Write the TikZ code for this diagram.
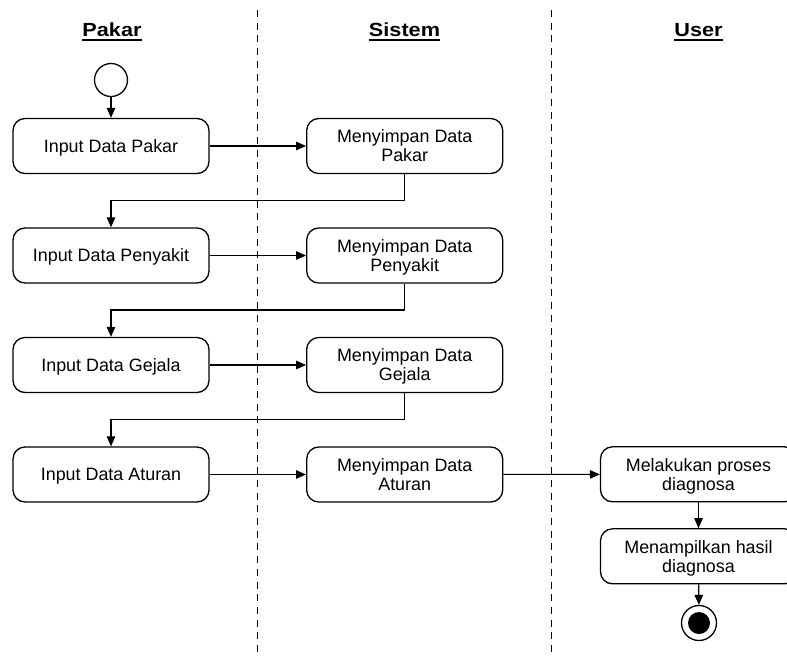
\documentclass[tikz,border=0pt]{standalone}
\usepackage{fontspec}
\setmainfont{Liberation Sans}
\usetikzlibrary{arrows.meta}
\newcommand{\lanetitle}[1]{\scalebox{1.14}[1]{#1}}
\begin{document}
\begin{tikzpicture}[x=1pt,y=-1pt,
  act/.style={draw, line width=1.3pt, rounded corners=12pt, minimum width=196pt,
    minimum height=55pt, align=center, inner sep=0pt, text depth=0pt,
    font=\fontsize{17.9}{19}\selectfont},
  flow/.style={line width=1.1pt, -{Triangle[length=10pt,width=8.5pt]}},
  lane/.style={line width=1.3pt, dash pattern=on 7pt off 5.7pt},
  head/.style={inner sep=0pt, anchor=base, font=\bfseries\fontsize{19}{22}\selectfont},
  uline/.style={line width=2pt}]
\useasboundingbox (0,0) rectangle (787,657);

% swimlane separators
\draw[lane] (257.7,10) -- (257.7,657);
\draw[lane] (551.7,10) -- (551.7,657);

% lane headers
\node[head] (hp) at (112,36.7) {\lanetitle{Pakar}};
\node[head] (hs) at (404.5,36.7) {\lanetitle{Sistem}};
\node[head] (hu) at (698.5,36.7) {\lanetitle{User}};
\foreach \h in {hp,hs,hu}
  \draw[uline] ([yshift=-2.8pt]\h.base west) -- ([yshift=-2.8pt]\h.base east);

% initial and final states
\node[draw, circle, line width=1.3pt, minimum size=33pt, inner sep=0pt] (start) at (111,80) {};
\node[draw, circle, line width=1.3pt, minimum size=35pt, inner sep=0pt] (stop) at (699,623) {};
\node[fill, circle, minimum size=22pt, inner sep=0pt] (stopdot) at (699,623) {};

% activities
\node[act] (p1) at (111,146) {Input Data Pakar};
\node[act] (s1) at (404.7,146) {Menyimpan Data\\Pakar};
\node[act] (p2) at (111,255.5) {Input Data Penyakit};
\node[act] (s2) at (404.7,255.5) {Menyimpan Data\\Penyakit};
\node[act] (p3) at (111,365) {Input Data Gejala};
\node[act] (s3) at (404.7,365) {Menyimpan Data\\Gejala};
\node[act] (p4) at (111,474.5) {Input Data Aturan};
\node[act] (s4) at (404.7,474.5) {Menyimpan Data\\Aturan};
\node[act] (u1) at (698.5,474.3) {Melakukan proses\\diagnosa};
\node[act] (u2) at (698.5,556.3) {Menampilkan hasil\\diagnosa};

% flows
\draw[flow] (start) -- (p1);
\draw[flow] (p1) -- (s1);
\draw[flow] (p2) -- (s2);
\draw[flow] (p3) -- (s3);
\draw[flow] (p4) -- (s4);
\draw[flow] (s4) -- (u1);
\draw[flow] (u1) -- (u2);
\draw[flow] (u2) -- (stop);

\draw[flow] (s1.south) |- (111,200.5) -- (p2.north);
\draw[flow] (s2.south) |- (111,310) -- (p3.north);
\draw[flow] (s3.south) |- (111,419.5) -- (p4.north);
\end{tikzpicture}
\end{document}
